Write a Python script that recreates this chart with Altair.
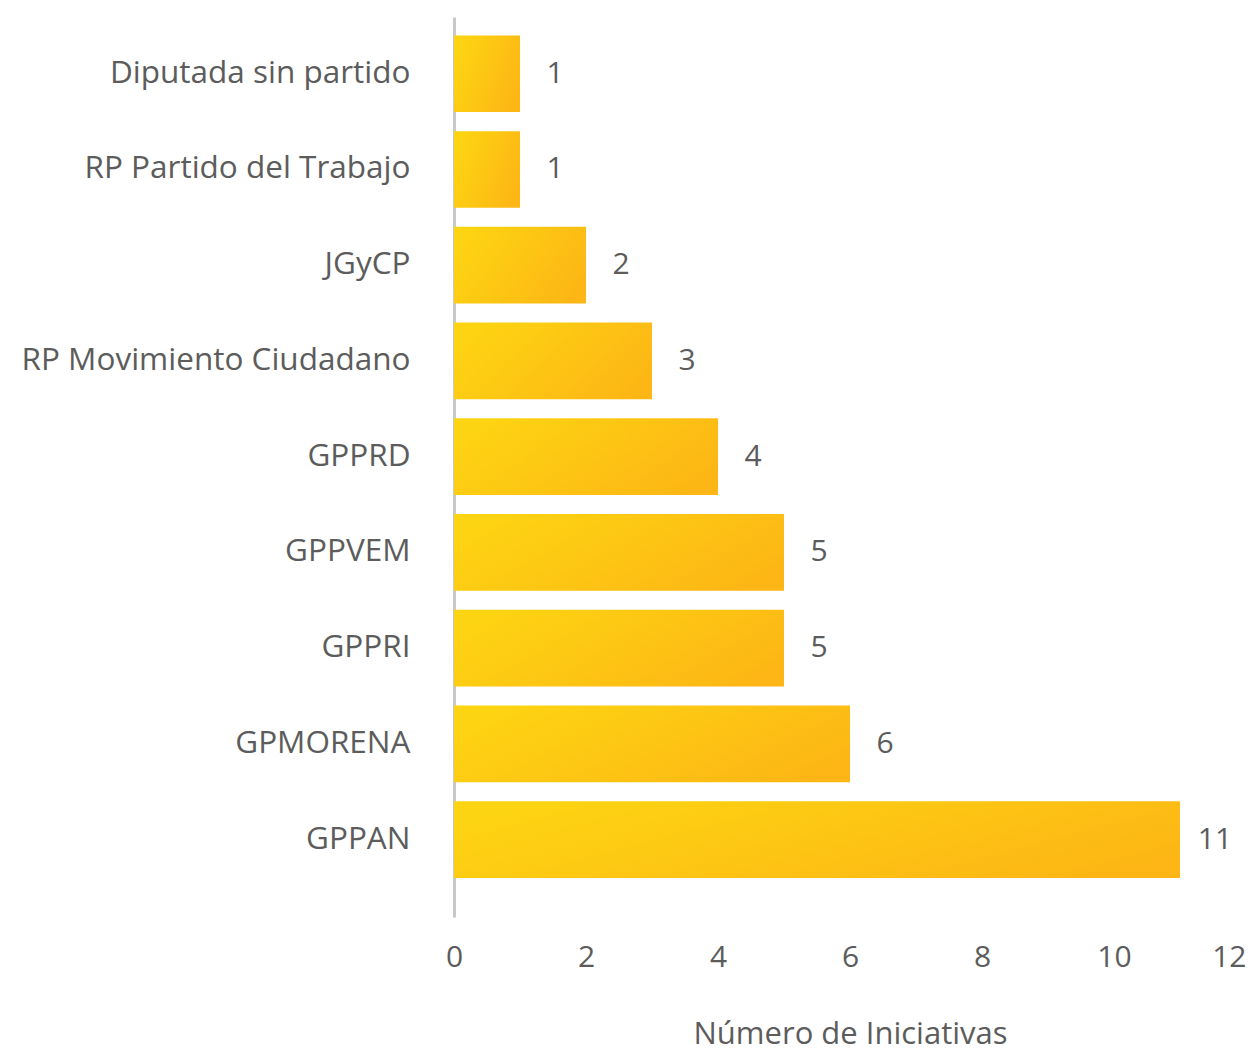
import altair as alt
import pandas as pd

categories = ["Diputada sin partido", "RP Partido del Trabajo", "JGyCP",
              "RP Movimiento Ciudadano", "GPPRD", "GPPVEM", "GPPRI",
              "GPMORENA", "GPPAN"]
values = [1, 1, 2, 3, 4, 5, 5, 6, 11]
x_ticks = [0, 2, 4, 6, 8, 10, 12]

df = pd.DataFrame({"cat": categories, "val": values})

FONT = "Open Sans"
GRAY = "#5c5c5c"

y_enc = alt.Y("cat:N", sort=categories, title=None,
              scale=alt.Scale(paddingInner=0.2, paddingOuter=0.3, align=0.32),
              axis=alt.Axis(domain=True, domainColor="#c8c8c8", domainWidth=3,
                            ticks=False, tickSize=0, labelPadding=44,
                            labelFontSize=31.5, labelColor=GRAY, labelFont=FONT,
                            labelLimit=500, grid=False))
x_enc = alt.X("val:Q", title="Número de Iniciativas",
              scale=alt.Scale(domain=[0, 12], nice=False),
              axis=alt.Axis(values=x_ticks, format="d", domain=False, ticks=False,
                            tickSize=0, grid=False, labelPadding=25,
                            labelFontSize=30, labelColor=GRAY, labelFont=FONT,
                            labelFlush=False,
                            labelAlign=alt.ExprRef(expr="datum.value == 12 ? 'right' : 'center'"),
                            labelBound=False,
                            titleFontSize=31, titleFont=FONT, titleColor=GRAY,
                            titleFontWeight="normal", titlePadding=47))

gradient = alt.Gradient(
    gradient="linear",
    stops=[alt.GradientStop(color="#FDD412", offset=0),
           alt.GradientStop(color="#FDB615", offset=1)],
    x1=0, x2=1, y1=0.3, y2=0.7)

bars = alt.Chart(df).mark_bar(fill=gradient, cornerRadius=0).encode(x=x_enc, y=y_enc)

labels = alt.Chart(df).mark_text(align="center", baseline="middle", dx=35,
                                 fontSize=30, font=FONT, color=GRAY).encode(
    x=alt.X("val:Q"), y=alt.Y("cat:N", sort=categories), text="val:Q")

chart = alt.layer(bars, labels).properties(
    width=792, height=900,
    padding={"left": 446, "top": 9, "right": 0, "bottom": 134},
    autosize=alt.AutoSizeParams(type="none"),
).configure_view(stroke=None)

chart.save("out.html", embed_options={"renderer": "svg", "actions": False})
